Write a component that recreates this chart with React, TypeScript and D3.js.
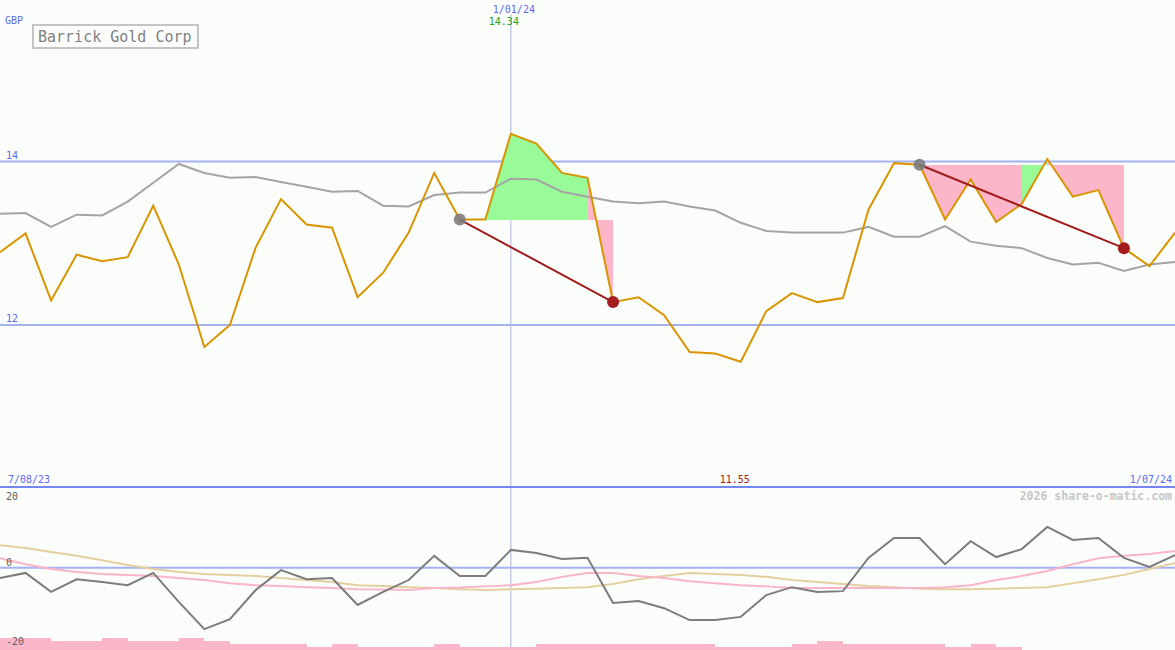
import React, { useEffect, useRef } from 'react';
import * as d3 from 'd3';

// weekly closes, GBP
const closes = [12.89, 13.12, 12.30, 12.86, 12.78, 12.83, 13.46, 12.74, 11.73, 12.00, 12.94, 13.54, 13.23, 13.19, 12.34, 12.64, 13.13, 13.86, 13.29, 13.29, 14.34, 14.22, 13.86, 13.80, 12.28, 12.34, 12.12, 11.67, 11.65, 11.55, 12.17, 12.39, 12.28, 12.33, 13.41, 13.98, 13.96, 13.29, 13.78, 13.26, 13.48, 14.03, 13.57, 13.65, 12.94, 12.72, 13.13];
const movingAvg = [13.36, 13.37, 13.20, 13.35, 13.34, 13.51, 13.74, 13.97, 13.86, 13.80, 13.81, 13.75, 13.69, 13.63, 13.64, 13.46, 13.45, 13.59, 13.62, 13.62, 13.79, 13.78, 13.63, 13.57, 13.51, 13.49, 13.51, 13.45, 13.40, 13.25, 13.15, 13.13, 13.13, 13.13, 13.20, 13.08, 13.08, 13.21, 13.02, 12.97, 12.94, 12.82, 12.74, 12.76, 12.66, 12.74, 12.77];

// lower panel
const oscMain = [-2.6, -1.3, -6.1, -2.9, -3.6, -4.4, -1.3, -8.6, -15.5, -13.0, -5.7, -0.6, -2.9, -2.6, -9.4, -6.1, -3.1, 3.0, -2.1, -2.1, 4.5, 3.7, 2.2, 2.5, -8.9, -8.4, -10.2, -13.2, -13.2, -12.4, -6.9, -4.9, -6.1, -5.9, 2.5, 7.5, 7.5, 0.9, 6.7, 2.7, 4.7, 10.3, 7.0, 7.5, 2.5, 0.2, 3.2];
const oscPink = [2.4, 0.9, -0.3, -1.1, -1.6, -1.8, -2.1, -2.6, -3.1, -3.9, -4.4, -4.6, -4.9, -5.1, -5.4, -5.5, -5.6, -5.1, -5.0, -4.7, -4.4, -3.6, -2.3, -1.3, -1.3, -2.1, -2.6, -3.4, -3.9, -4.4, -4.7, -5.1, -5.1, -5.1, -5.1, -5.1, -5.1, -4.9, -4.4, -3.1, -2.1, -0.8, 0.9, 2.4, 3.0, 3.5, 4.2];
const oscTan = [5.7, 5.0, 4.0, 3.0, 1.9, 0.7, -0.3, -1.1, -1.6, -1.8, -2.1, -2.6, -3.1, -3.6, -4.4, -4.6, -4.9, -5.1, -5.4, -5.6, -5.4, -5.3, -5.1, -4.9, -4.1, -2.9, -2.1, -1.3, -1.6, -1.8, -2.3, -3.1, -3.6, -4.1, -4.6, -4.9, -5.3, -5.4, -5.4, -5.3, -5.1, -4.9, -3.9, -2.9, -1.8, -0.3, 1.2];
const barLevels = [4, 4, 3, 3, 4, 3, 3, 4, 3, 2, 2, 2, 1, 2, 1, 1, 1, 2, 1, 1, 1, 2, 2, 2, 2, 2, 2, 2, 1, 1, 1, 2, 3, 2, 2, 2, 2, 1, 2, 1, 0, 0, 0, 0, 0, 0];

const trades = [
  { entry: 18, exit: 24 },
  { entry: 36, exit: 44 },
];

const priceTicks = [12, 14];
const oscTicks = [20, 0, -20];
const title = 'Barrick Gold Corp';
const currency = 'GBP';
const startLabel = '7/08/23';
const endLabel = '1/07/24';
const markIndex = 20;
const markLabel = '1/01/24';

const App: React.FC = () => {
  const svgRef = useRef<SVGSVGElement | null>(null);

  useEffect(() => {
    const width = 1175;
    const height = 650;
    const font = "'DejaVu Sans Mono', 'Liberation Mono', monospace";

    const svg = d3.select(svgRef.current);
    svg.selectAll('*').remove();
    svg.attr('width', width).attr('height', height).attr('viewBox', [0, 0, width, height]);

    svg.append('rect').attr('width', width).attr('height', height).attr('fill', '#fbfdfb');

    const x = d3.scaleLinear().domain([0, closes.length - 1]).range([0, width]);
    const y = d3.scaleLinear().domain([12, 14]).range([325, 161.5]);
    const yo = d3.scaleLinear().domain([-20, 20]).range([647, 488.5]);
    const yb = d3.scaleLinear().domain([0, 4]).range([height, 638.3]);

    const txt = (tx: number, ty: number, s: string, color: string, anchor = 'start', size = 10, weight = 'normal') =>
      svg.append('text')
        .attr('x', tx).attr('y', ty)
        .attr('font-family', font).attr('font-size', size)
        .attr('font-weight', weight)
        .attr('text-anchor', anchor)
        .attr('fill', color)
        .text(s);

    // price grid
    priceTicks.forEach(t => {
      svg.append('line')
        .attr('x1', 0).attr('x2', width)
        .attr('y1', y(t)).attr('y2', y(t))
        .attr('stroke', '#a4b2f2').attr('stroke-width', 2);
      txt(6, y(t) - 3, String(t), '#5a6af0');
    });

    // oscillator zero line
    svg.append('line')
      .attr('x1', 0).attr('x2', width)
      .attr('y1', yo(0)).attr('y2', yo(0))
      .attr('stroke', '#a4b2f2').attr('stroke-width', 2);

    // date crosshair
    svg.append('line')
      .attr('x1', x(markIndex)).attr('x2', x(markIndex))
      .attr('y1', 14).attr('y2', height)
      .attr('stroke', '#b0b4e0').attr('stroke-width', 1);

    // trade fills
    trades.forEach(tr => {
      const level = closes[tr.entry];
      for (let i = tr.entry; i < tr.exit; i++) {
        const pts: [number, number][] = [
          [x(i), y(level)],
          [x(i), y(closes[i])],
          [x(i + 1), y(closes[i + 1])],
          [x(i + 1), y(level)],
        ];
        svg.append('path')
          .attr('d', d3.line()(pts) + 'Z')
          .attr('fill', closes[i + 1] > level ? '#98fb98' : '#fbb6c9')
          .attr('shape-rendering', 'crispEdges')
          .attr('stroke', 'none');
      }
    });

    const line = d3.line<number>().x((_, i) => x(i)).y(d => y(d));
    const oline = d3.line<number>().x((_, i) => x(i)).y(d => yo(d));

    svg.append('path').datum(movingAvg)
      .attr('d', line).attr('fill', 'none')
      .attr('stroke', '#a4a4a4').attr('stroke-width', 2);

    svg.append('path').datum(closes)
      .attr('d', line).attr('fill', 'none')
      .attr('stroke', '#d99400').attr('stroke-width', 2);

    // trade lines & dots
    trades.forEach(tr => {
      svg.append('line')
        .attr('x1', x(tr.entry)).attr('y1', y(closes[tr.entry]))
        .attr('x2', x(tr.exit)).attr('y2', y(closes[tr.exit]))
        .attr('stroke', '#a01c1c').attr('stroke-width', 2);
      svg.append('circle')
        .attr('cx', x(tr.entry)).attr('cy', y(closes[tr.entry]))
        .attr('r', 6).attr('fill', '#7c7c7c').attr('opacity', 0.9);
      svg.append('circle')
        .attr('cx', x(tr.exit)).attr('cy', y(closes[tr.exit]))
        .attr('r', 6).attr('fill', '#a41e1e');
    });

    // bars at bottom
    svg.append('g').selectAll('rect')
      .data(barLevels)
      .join('rect')
      .attr('x', (_, i) => x(i))
      .attr('width', (_, i) => x(i + 1) - x(i))
      .attr('y', d => yb(d))
      .attr('height', d => height - yb(d))
      .attr('shape-rendering', 'crispEdges')
      .attr('fill', '#fbb6c9');

    // oscillator lines
    svg.append('path').datum(oscTan)
      .attr('d', oline).attr('fill', 'none')
      .attr('stroke', '#e4cf9e').attr('stroke-width', 2);
    svg.append('path').datum(oscPink)
      .attr('d', oline).attr('fill', 'none')
      .attr('stroke', '#f8b4c8').attr('stroke-width', 2);
    svg.append('path').datum(oscMain)
      .attr('d', oline).attr('fill', 'none')
      .attr('stroke', '#7c7c7c').attr('stroke-width', 2);

    oscTicks.forEach(t => {
      txt(6, t === 20 ? yo(t) + 11 : yo(t) - 2, String(t), '#606060');
    });

    // separator
    svg.append('line')
      .attr('x1', 0).attr('x2', width)
      .attr('y1', 487).attr('y2', 487)
      .attr('stroke', '#7585f2').attr('stroke-width', 2);

    // texts
    txt(5, 24, currency, '#5a6af0');
    txt(x(markIndex) + 3, 13, markLabel, '#5a6af0', 'middle');
    txt(x(markIndex) - 7, 25, d3.format('.2f')(closes[markIndex]), '#20a020', 'middle');

    const minIdx = d3.minIndex(closes);
    txt(x(minIdx) - 6, 483, d3.format('.2f')(closes[minIdx]), '#a01c1c', 'middle');
    txt(8, 483, startLabel, '#5a6af0');
    txt(1172, 483, endLabel, '#5a6af0', 'end');
    txt(1172, 500, '2026 share-o-matic.com', '#c6c6c6', 'end', 11.5, 'bold');

    // title box
    svg.append('rect')
      .attr('x', 33).attr('y', 25)
      .attr('width', 165).attr('height', 23)
      .attr('fill', 'none').attr('stroke', '#c4c4c4').attr('stroke-width', 2);
    txt(38, 42, title, '#808080', 'start', 15);
  }, []);

  return (
    <div style={{ position: 'absolute', left: 0, top: 0 }}>
      <svg ref={svgRef} style={{ display: 'block' }}></svg>
    </div>
  );
};

export default App;
